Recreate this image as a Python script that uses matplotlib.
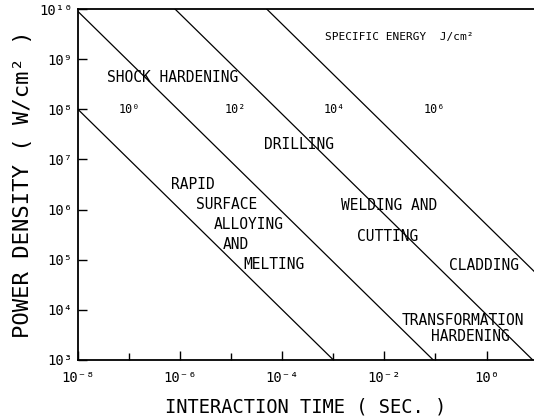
import numpy as np
import matplotlib
matplotlib.use("Agg")
import matplotlib.pyplot as plt

# ---- data ----
energy_labels = ["10⁰", "10²", "10⁴", "10⁶"]          # specific energy J/cm^2
energy_values = [1.0, 90.0, 8.0e3, 5.0e5]              # drawn iso-energy lines
energy_label_t = [1.0e-7, 1.2e-5, 1.05e-3, 9.3e-2]     # label positions (time)
energy_label_p = [1e8, 1e8, 1e8, 1e8]

x_ticks = [1e-8, 1e-6, 1e-4, 1e-2, 1e0]
x_ticklabels = ["10⁻⁸", "10⁻⁶", "10⁻⁴", "10⁻²", "10⁰"]
x_minor = [1e-7, 1e-5, 1e-3, 1e-1]
y_ticks = [1e3, 1e4, 1e5, 1e6, 1e7, 1e8, 1e9, 1e10]
y_ticklabels = ["10³", "10⁴", "10⁵", "10⁶", "10⁷", "10⁸", "10⁹", "10¹⁰"]

region_texts = ["SHOCK HARDENING", "DRILLING", "RAPID", "SURFACE", "ALLOYING",
                "AND", "MELTING", "WELDING AND", "CUTTING", "CLADDING",
                "TRANSFORMATION", "HARDENING"]
region_x = [0.208, 0.485, 0.252, 0.325, 0.375, 0.346, 0.430, 0.682, 0.678, 0.890, 0.844, 0.860]
region_y = [0.806, 0.613, 0.499, 0.442, 0.385, 0.328, 0.271, 0.439, 0.353, 0.268, 0.111, 0.066]

FONT = "DejaVu Sans Mono"

fig = plt.figure(figsize=(5.34, 4.17), dpi=100)
ax = fig.add_axes([0.146, 0.137, 0.854, 0.841])
ax.set_xscale("log")
ax.set_yscale("log")
xmin, xmax = 1e-8, 10 ** 0.93
ax.set_xlim(xmin, xmax)
ax.set_ylim(1e3, 1e10)

t = np.logspace(-9, 2, 400)
for E in energy_values:
    ax.plot(t, E / t, color="black", lw=0.9)

for lab, tx, py in zip(energy_labels, energy_label_t, energy_label_p):
    ax.text(tx, py, lab, fontsize=8.5, family=FONT, ha="center", va="center")

for s, xf, yf in zip(region_texts, region_x, region_y):
    ax.text(xf, yf, s, transform=ax.transAxes, fontsize=10.5, family=FONT,
            ha="center", va="center")

ax.text(0.704, 0.920, "SPECIFIC ENERGY  J/cm²", transform=ax.transAxes,
        fontsize=8, family=FONT, ha="center", va="center")

ax.set_xticks(x_ticks)
ax.set_xticklabels(x_ticklabels, family=FONT, fontsize=10)
ax.set_xticks(x_minor, minor=True)
ax.set_xticklabels([], minor=True)
ax.set_yticks(y_ticks)
ax.set_yticklabels(y_ticklabels, family=FONT, fontsize=10)
ax.yaxis.set_minor_locator(matplotlib.ticker.NullLocator())

ax.tick_params(axis="y", which="major", direction="in", length=6.5, width=1.0, pad=4)
ax.tick_params(axis="x", which="major", direction="in", length=6.5, width=1.0, pad=8)
ax.tick_params(axis="x", which="minor", direction="in", length=5, width=1.0)
ax.tick_params(top=False, right=False, which="both")

for side in ["left", "bottom", "top"]:
    ax.spines[side].set_linewidth(1.3)
ax.spines["right"].set_visible(False)

ax.set_xlabel("INTERACTION TIME ( SEC. )", family=FONT, fontsize=13.5, labelpad=9)
ax.set_ylabel("POWER DENSITY ( W/cm² )", family=FONT, fontsize=16, labelpad=4)

fig.savefig("out.png", dpi=100)
